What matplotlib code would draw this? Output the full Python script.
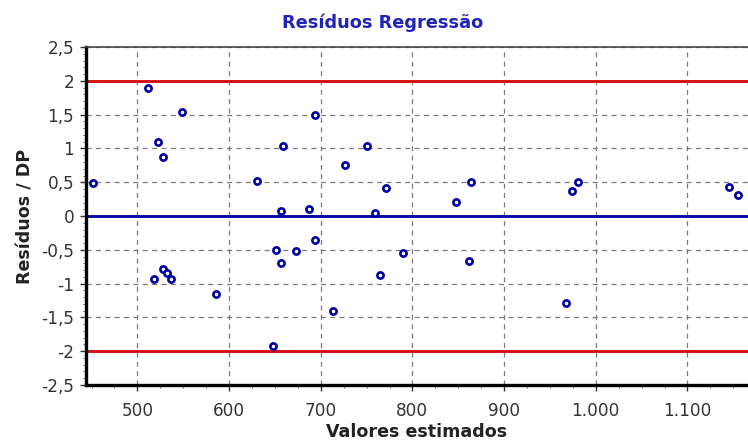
import matplotlib
matplotlib.use("Agg")
import matplotlib.pyplot as plt
import matplotlib.ticker as mticker

# Fitted values and standardized residuals
valores_estimados = [
    452, 512, 522, 528, 549, 631, 659, 657, 687, 694, 727, 751, 759,
    771, 848, 864, 974, 981, 1145, 1155,
    518, 528, 532, 537, 586, 651, 657, 673, 694, 713, 648,
    765, 790, 862, 968,
]
residuos_dp = [
    0.49, 1.90, 1.09, 0.88, 1.54, 0.52, 1.04, 0.08, 0.10, 1.49, 0.76, 1.04, 0.04,
    0.42, 0.21, 0.50, 0.37, 0.50, 0.43, 0.31,
    -0.93, -0.78, -0.85, -0.93, -1.16, -0.50, -0.69, -0.52, -0.36, -1.40, -1.92,
    -0.88, -0.55, -0.67, -1.28,
]
limites = [-2, 2]
x_ticks = [500, 600, 700, 800, 900, 1000, 1100]
y_ticks = [-2.5, -2, -1.5, -1, -0.5, 0, 0.5, 1, 1.5, 2, 2.5]

plt.rcParams["font.family"] = ["DejaVu Sans"]

fig = plt.figure(figsize=(7.48, 4.45), dpi=100)
ax = fig.add_axes([0.115, 0.135, 0.885, 0.759])

ax.set_xlim(444, 1166)
ax.set_ylim(-2.5, 2.5)

# Reference lines: zero in blue, +/-2 limits in red
ax.axhline(0, color="#0a0aa8", linewidth=2.1, zorder=2)
for lim in limites:
    ax.axhline(lim, color="#d41010", linewidth=2.1, zorder=2)

ax.scatter(valores_estimados, residuos_dp, s=20, facecolor="white",
           edgecolor="#0000a0", linewidth=1.9, zorder=3)

ax.set_xticks(x_ticks)
ax.set_yticks(y_ticks)
ax.xaxis.set_minor_locator(mticker.MultipleLocator(25))
ax.yaxis.set_minor_locator(mticker.MultipleLocator(0.1))
ax.xaxis.set_major_formatter(mticker.FuncFormatter(
    lambda v, p: f"{int(v):,}".replace(",", ".")))
ax.yaxis.set_major_formatter(mticker.FuncFormatter(
    lambda v, p: f"{v:g}".replace(".", ",")))

ax.grid(True, which="major", color="#7a7a7a", linestyle=(0, (4, 3.5)), linewidth=0.9)
ax.set_axisbelow(True)

ax.tick_params(axis="both", which="major", direction="out", length=4.5, width=1,
               color="#333333", labelsize=12.2, labelcolor="#333333")
ax.tick_params(axis="x", which="major", pad=8)
ax.tick_params(axis="y", which="major", pad=4)
ax.tick_params(axis="both", which="minor", direction="out", length=2.5, width=0.7,
               color="#666666")

for side in ("left", "bottom"):
    ax.spines[side].set_linewidth(2.4)
    ax.spines[side].set_color("black")
ax.spines["top"].set_linewidth(1.2)
ax.spines["top"].set_color("#444444")
ax.spines["right"].set_visible(False)

fig.text(383 / 748, 1 - 23 / 445, "Resíduos Regressão", color="#2323b8",
         fontsize=12.8, fontweight="bold", ha="center", va="center")
ax.set_xlabel("Valores estimados", fontsize=12.6, fontweight="bold",
              color="#222222", labelpad=2)
ax.set_ylabel("Resíduos / DP", fontsize=12.6, fontweight="bold",
              color="#222222", labelpad=5)

fig.savefig("out.png", dpi=100)
